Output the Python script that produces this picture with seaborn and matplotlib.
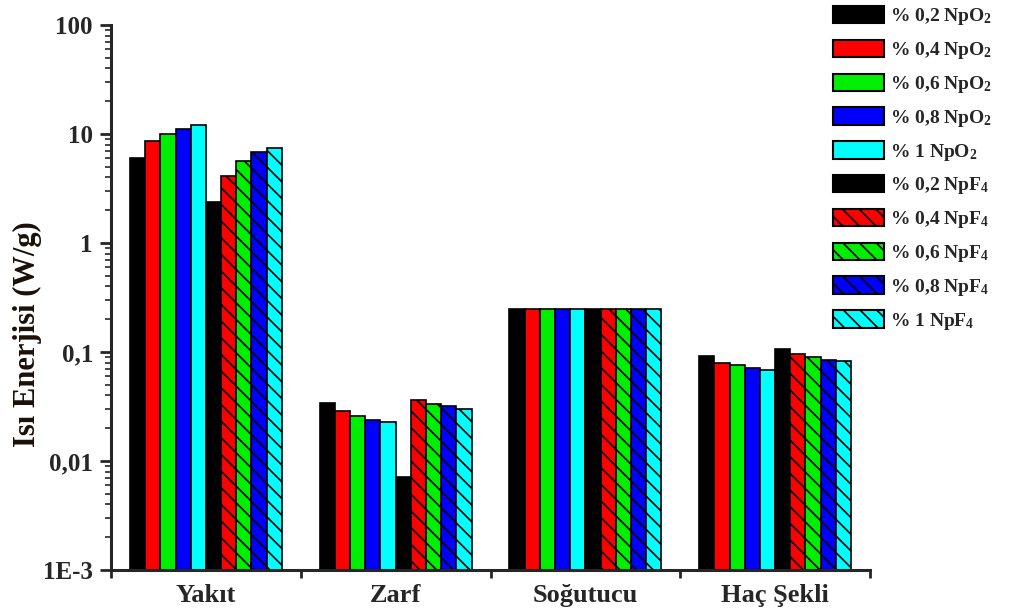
import numpy as np
import pandas as pd
import seaborn as sns
import matplotlib
matplotlib.use("Agg")
import matplotlib.pyplot as plt
from matplotlib.patches import Patch
from matplotlib.ticker import FixedLocator, FixedFormatter, LogLocator, NullFormatter

categories = ["Yakıt", "Zarf", "Soğutucu", "Haç Şekli"]
series = ["% 0,2 NpO$_2$", "% 0,4 NpO$_2$", "% 0,6 NpO$_2$", "% 0,8 NpO$_2$", "% 1 NpO$_2$",
          "% 0,2 NpF$_4$", "% 0,4 NpF$_4$", "% 0,6 NpF$_4$", "% 0,8 NpF$_4$", "% 1 NpF$_4$"]
colors = ["#000000", "#ff0000", "#00ee00", "#0000ff", "#00ffff",
          "#000000", "#ff0000", "#00ee00", "#0000ff", "#00ffff"]
hatched = [False, False, False, False, False, True, True, True, True, True]

# values per series, in category order (Yakıt, Zarf, Soğutucu, Haç Şekli)
v_npo2_02 = [6.0, 0.034, 0.25, 0.092]
v_npo2_04 = [8.6, 0.0288, 0.25, 0.079]
v_npo2_06 = [10.0, 0.0259, 0.25, 0.076]
v_npo2_08 = [11.1, 0.0238, 0.25, 0.071]
v_npo2_10 = [12.1, 0.0228, 0.25, 0.068]
v_npf4_02 = [2.4, 0.0071, 0.25, 0.107]
v_npf4_04 = [4.1, 0.0363, 0.25, 0.096]
v_npf4_06 = [5.6, 0.0333, 0.25, 0.090]
v_npf4_08 = [6.8, 0.032, 0.25, 0.0845]
v_npf4_10 = [7.4, 0.030, 0.25, 0.083]
all_values = [v_npo2_02, v_npo2_04, v_npo2_06, v_npo2_08, v_npo2_10,
              v_npf4_02, v_npf4_04, v_npf4_06, v_npf4_08, v_npf4_10]

ytick_vals = [1e-3, 1e-2, 1e-1, 1, 10, 100]
ytick_labels = ["1E-3", "0,01", "0,1", "1", "10", "100"]

rows = []
for s, vals in zip(series, all_values):
    for c, v in zip(categories, vals):
        rows.append({"Kategori": c, "Seri": s, "Değer": v})
df = pd.DataFrame(rows)

sns.set_style("ticks")
plt.rcParams["font.family"] = ["Liberation Serif", "DejaVu Serif"]
plt.rcParams["font.weight"] = "bold"
plt.rcParams["mathtext.fontset"] = "custom"
plt.rcParams["mathtext.rm"] = "Liberation Serif:bold"
plt.rcParams["mathtext.it"] = "Liberation Serif:bold"
plt.rcParams["mathtext.bf"] = "Liberation Serif:bold"
plt.rcParams["mathtext.default"] = "rm"
plt.rcParams["hatch.linewidth"] = 1.2

fig = plt.figure(figsize=(10.09, 6.12), dpi=100)
ax = fig.add_axes([111 / 1009, 42 / 612, 759 / 1009, 545 / 612])
ax.set_yscale("log")

sns.barplot(data=df, x="Kategori", y="Değer", hue="Seri", order=categories,
            hue_order=series, palette=colors, saturation=1, width=0.8,
            edgecolor="black", linewidth=1.2, legend=False, ax=ax)

for cont, h in zip(ax.containers, hatched):
    if h:
        for p in cont.patches:
            p.set_hatch("\\\\")

ax.set_ylim(1e-3, 100)
ax.set_xlim(-0.5, 3.5)
ax.yaxis.set_major_locator(FixedLocator(ytick_vals))
ax.yaxis.set_major_formatter(FixedFormatter(ytick_labels))
ax.yaxis.set_minor_locator(LogLocator(base=10, subs=np.arange(2, 10), numticks=20))
ax.yaxis.set_minor_formatter(NullFormatter())

ax.set_xticks(range(len(categories)))
ax.set_xticklabels(categories)
ax.set_xticks([-0.5, 0.5, 1.5, 2.5, 3.5], minor=True)
ax.tick_params(axis="x", which="major", length=0, pad=10, labelsize=19)
ax.tick_params(axis="x", which="minor", length=6, width=2, direction="out")
ax.tick_params(axis="y", which="major", length=8, width=2, direction="out", labelsize=18, pad=5)
ax.tick_params(axis="y", which="minor", length=4, width=1.2, direction="out")

sns.despine(ax=ax)
for sp in ["left", "bottom"]:
    ax.spines[sp].set_linewidth(2.2)

ax.set_xlabel("")
ax.set_ylabel("")
fig.text(27 / 1009, 1 - 334 / 612, "Isı Enerjisi (W/g)", rotation=90, ha="center", va="center",
         fontsize=22, fontweight="bold", color="#1a1008")

handles = []
for c, s, h in zip(colors, series, hatched):
    handles.append(Patch(facecolor=c, edgecolor="black", linewidth=1.5,
                         hatch="\\\\" if h else None, label=s))
fig.legend(handles=handles, loc="upper left", bbox_to_anchor=(833 / 1009, 1 - 6 / 612),
           frameon=False, fontsize=14, handlelength=2.6, handleheight=1.0,
           labelspacing=0.64, handletextpad=0.35, borderpad=0, borderaxespad=0)

fig.savefig("out.png", dpi=100)
